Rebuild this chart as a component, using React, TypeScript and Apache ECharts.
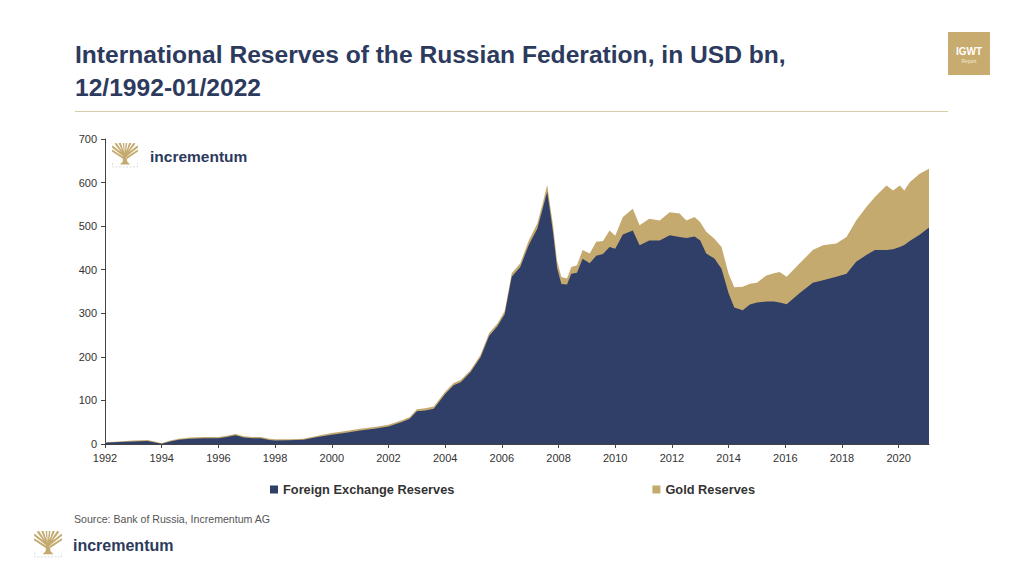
import React, { useEffect, useRef } from "react";
import * as echarts from "echarts";

// decimal years
const years = [
  1992.0, 1992.5, 1993.0, 1993.5, 1993.8, 1994.0, 1994.3, 1994.6, 1995.0, 1995.5,
  1996.0, 1996.3, 1996.6, 1996.9, 1997.2, 1997.5, 1997.8, 1998.0, 1998.5, 1999.0,
  1999.5, 2000.0, 2000.5, 2001.0, 2001.5, 2002.0, 2002.5, 2002.75, 2003.0, 2003.3,
  2003.6, 2004.0, 2004.3, 2004.55, 2004.9, 2005.25, 2005.55, 2005.85, 2006.1, 2006.35,
  2006.65, 2006.95, 2007.25, 2007.45, 2007.6, 2007.8, 2007.95, 2008.1, 2008.3, 2008.45,
  2008.65, 2008.85, 2009.1, 2009.33, 2009.57, 2009.8, 2010.0, 2010.27, 2010.62, 2010.86,
  2011.2, 2011.57, 2011.92, 2012.27, 2012.51, 2012.8, 2013.0, 2013.21, 2013.5, 2013.75,
  2014.0, 2014.2, 2014.5, 2014.75, 2015.0, 2015.33, 2015.6, 2015.8, 2016.05, 2016.5,
  2016.97, 2017.33, 2017.8, 2018.16, 2018.5, 2018.86, 2019.16, 2019.57, 2019.8, 2020.04,
  2020.2, 2020.39, 2020.74, 2021.07,
];

// USD bn
const fxReserves = [
  3, 4.5, 6, 7, 3, 0.5, 6, 9.5, 12, 13,
  13, 16, 20, 15, 13, 13, 9, 8, 8.5, 9.5,
  16, 21.5, 26, 31, 35, 40, 51, 58, 75, 77,
  81, 115, 135, 142, 165, 199, 248, 271, 298, 384,
  406, 457, 494, 542, 579, 489, 404, 367, 366, 391,
  393, 425, 415, 432, 436, 452, 448, 481, 490, 456,
  467, 467, 479, 475, 473, 476, 467, 437, 426, 402,
  346, 313, 307, 320, 325, 327, 327, 325, 321, 346,
  370, 376, 384, 391, 418, 434, 445, 445, 447, 452,
  457, 466, 480, 497,
];

const goldReserves = [
  1, 1.5, 2, 2, 2, 1.5, 2, 2.5, 3, 3,
  3, 3, 3, 3, 3, 3, 3, 3, 2.5, 2.5,
  3, 3.5, 4, 4, 4, 4, 4, 4, 5, 5,
  5, 5, 5, 5, 5, 6, 6, 6, 7, 8,
  9, 10, 12, 13, 16, 16, 16, 16, 14, 15,
  17, 20, 22, 32, 30, 38, 30, 40, 50, 46,
  50, 46, 53, 54, 40, 45, 42, 50, 45, 50,
  45, 47, 54, 48, 45, 60, 65, 70, 63, 68,
  75, 80, 76, 84, 95, 110, 122, 148, 135, 141,
  125, 135, 140, 135,
];

const yearTicks = [1992, 1994, 1996, 1998, 2000, 2002, 2004, 2006, 2008, 2010, 2012, 2014, 2016, 2018, 2020];

const NAVY = "#2f3f68";
const GOLD = "#c5aa6f";
const TITLE = "#2c3a5e";
const FONT = '"Liberation Sans", Arial, sans-serif';

// rough incrementum tree mark, 26 x 22 units
const treePath =
  "M11.4 11 L14.6 11 L15.2 18.5 L18 21.5 L8 21.5 L10.8 18.5 Z " +
  "M11.4 13.5 L0 4.5 L0.4 2.2 L12 11.5 Z " +
  "M11.6 12.5 L2.4 0.6 L4.6 0 L12.4 11.5 Z " +
  "M11.9 12 L6.6 0 L8.9 0 L12.6 11.5 Z " +
  "M12.1 12 L10.8 0 L12.2 0 L12.8 11.5 Z " +
  "M12.6 11.5 L13.8 0 L15.2 0 L13.9 12 Z " +
  "M13.4 11.5 L17.1 0 L19.4 0 L14.1 12 Z " +
  "M13.6 11.5 L21.4 0 L23.6 0.6 L14.4 12.5 Z " +
  "M14 11.5 L25.6 2.2 L26 4.5 L14.6 13.5 Z " +
  "M11.2 16 L0 8.6 L0.2 6.6 L11.6 14 Z " +
  "M14.8 16 L26 8.6 L25.8 6.6 L14.4 14 Z";
echarts.graphic.registerShape("incTree", echarts.graphic.extendPath(treePath, {}));

const logo = (x: number, y: number, s: number, fontSize: number, tx: number, ty: number) => [
  {
    type: "incTree",
    x,
    y,
    scaleX: s,
    scaleY: s,
    style: { fill: GOLD },
  },
  {
    type: "polyline",
    shape: {
      points: [
        [x + 0.5 * s, y + 20 * s],
        [x + 0.5 * s, y + 24 * s],
        [x + 13 * s, y + 24 * s],
        [x + 25.5 * s, y + 24 * s],
        [x + 25.5 * s, y + 20 * s],
      ],
    },
    style: { fill: "none", stroke: "#d4d4d4", lineWidth: 0.8, lineDash: [2, 1.5] },
  },
  {
    type: "text",
    x: tx,
    y: ty,
    style: {
      text: "incrementum",
      fill: TITLE,
      font: `bold ${fontSize}px ${FONT}`,
      verticalAlign: "middle",
    },
  },
];

const App: React.FC = () => {
  const chartRef = useRef<HTMLDivElement>(null);

  useEffect(() => {
    document.body.style.margin = "0";
    const chart = echarts.init(chartRef.current!, null, { renderer: "svg" });

    // gold sits on top of the FX area: draw the combined level behind the FX level
    const fxData = years.map((t, i) => [t, fxReserves[i]]);
    const stackedGold = years.map((t, i) => [t, fxReserves[i] + goldReserves[i]]);

    chart.setOption({
      animation: false,
      backgroundColor: "#ffffff",
      textStyle: { fontFamily: FONT },
      grid: { left: 105, right: 95, top: 139, bottom: 132 },
      xAxis: {
        type: "value",
        min: 1992,
        max: 2021.07,
        splitLine: { show: false },
        axisLine: { lineStyle: { color: "#444" } },
        axisTick: { customValues: yearTicks, length: 4, lineStyle: { color: "#444" } },
        axisLabel: {
          customValues: yearTicks,
          formatter: (v: number) => String(v),
          color: "#333",
          fontSize: 11,
          margin: 8,
        },
      },
      yAxis: {
        type: "value",
        min: 0,
        max: 700,
        interval: 100,
        splitLine: { show: false },
        axisLine: { show: true, lineStyle: { color: "#444" } },
        axisTick: { show: true, length: 4, lineStyle: { color: "#444" } },
        axisLabel: { color: "#333", fontSize: 11, margin: 8 },
      },
      legend: {
        left: 265,
        top: 478,
        icon: "rect",
        itemWidth: 8,
        itemHeight: 8,
        itemGap: 198,
        data: ["Foreign Exchange Reserves", "Gold Reserves"],
        textStyle: { color: "#333", fontSize: 12.8, fontWeight: "bold" },
      },
      series: [
        {
          name: "Gold Reserves",
          type: "line",
          z: 1,
          showSymbol: false,
          lineStyle: { width: 0 },
          itemStyle: { color: GOLD },
          areaStyle: { color: GOLD, opacity: 1 },
          data: stackedGold,
        },
        {
          name: "Foreign Exchange Reserves",
          type: "line",
          z: 2,
          showSymbol: false,
          lineStyle: { width: 0 },
          itemStyle: { color: NAVY },
          areaStyle: { color: NAVY, opacity: 1 },
          data: fxData,
        },
      ],
      graphic: [
        {
          type: "text",
          left: 75,
          top: 38,
          style: {
            text: "International Reserves of the Russian Federation, in USD bn,\n12/1992-01/2022",
            fill: TITLE,
            font: `bold 24.6px ${FONT}`,
            lineHeight: 33,
          },
        },
        {
          type: "line",
          shape: { x1: 75, y1: 111.5, x2: 948, y2: 111.5 },
          style: { stroke: "#d9cba6", lineWidth: 1 },
        },
        {
          type: "rect",
          shape: { x: 948, y: 32, width: 42, height: 43 },
          style: { fill: "#c8ab6e" },
        },
        {
          type: "text",
          x: 969,
          y: 51,
          style: {
            text: "IGWT",
            fill: "#fff",
            font: `bold 10px ${FONT}`,
            align: "center",
            verticalAlign: "middle",
          },
        },
        {
          type: "text",
          x: 969,
          y: 61,
          style: {
            text: "Report",
            fill: "#f3ead8",
            font: `5px ${FONT}`,
            align: "center",
            verticalAlign: "middle",
          },
        },
        ...logo(112, 143, 1, 15.5, 150, 156),
        {
          type: "text",
          left: 74,
          top: 513,
          style: {
            text: "Source: Bank of Russia, Incrementum AG",
            fill: "#555",
            font: `10.6px ${FONT}`,
          },
        },
        ...logo(34, 531, 1.08, 16, 73, 545),
      ],
    });

    return () => {
      chart.dispose();
    };
  }, []);

  return <div ref={chartRef} style={{ width: 1024, height: 576 }} />;
};

export default App;
